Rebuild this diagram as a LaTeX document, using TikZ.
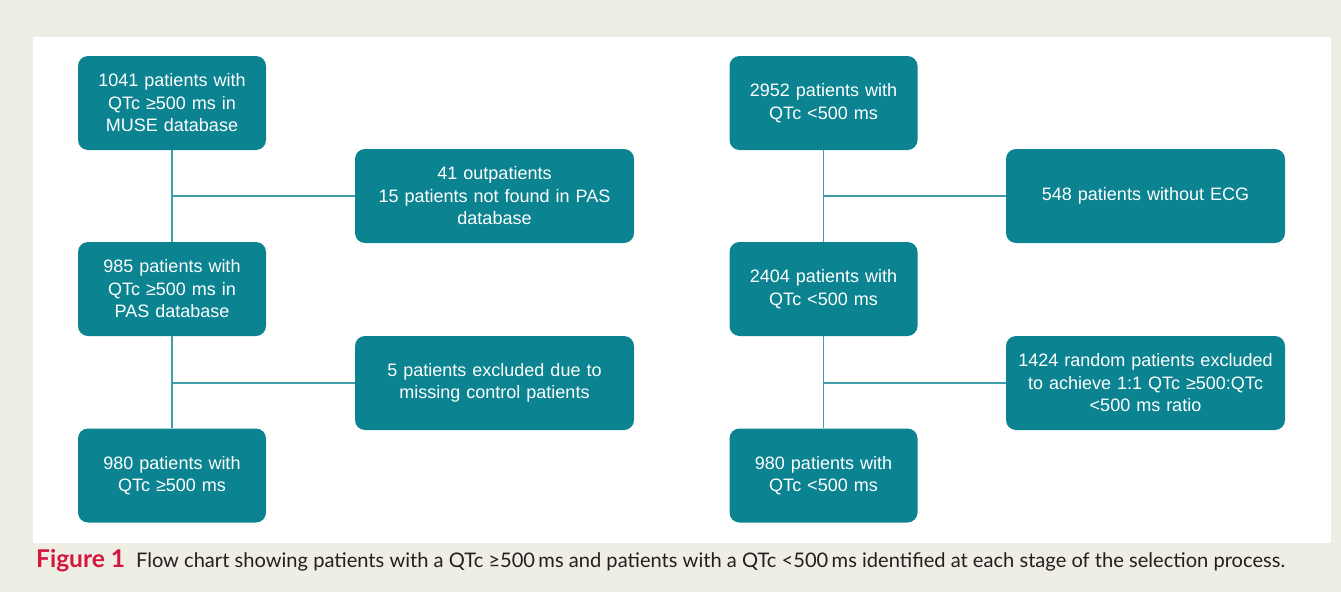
\documentclass[tikz,border=0pt]{standalone}
\usepackage{fontspec}
\setmainfont{Liberation Sans}
\newfontfamily\capfont{Lato}
\definecolor{boxteal}{HTML}{0B8391}
\definecolor{lineteal}{HTML}{3E9EA9}
\definecolor{bgbeige}{HTML}{EFEEE4}
\definecolor{figred}{HTML}{D3173F}
\definecolor{captext}{HTML}{231F20}
\tikzset{
  flowbox/.style={draw=none, fill=boxteal, rounded corners=10pt, text=white, align=center,
    font=\fontsize{18}{22.5}\selectfont, inner sep=3pt},
  mainbox/.style={flowbox, minimum width=188pt, minimum height=94pt, text width=182pt},
  sidebox/.style={flowbox, minimum width=279pt, minimum height=94pt, text width=273pt},
  conn/.style={draw=lineteal, line width=1.8pt}
}
\begin{document}
\begin{tikzpicture}[x=1pt,y=-1pt]
\useasboundingbox (0,0) rectangle (1341,592);
\fill[bgbeige] (0,0) rectangle (1341,592);
\fill[white] (33,37) rectangle (1331,543);

% left column
\node[mainbox] (l1) at (172,103) {1041 patients with\\QTc ≥500 ms in\\MUSE database};
\node[mainbox] (l2) at (172,289) {985 patients with\\QTc ≥500 ms in\\PAS database};
\node[mainbox] (l3) at (172,475.5) {980 patients with\\QTc ≥500 ms};
\node[sidebox] (ls1) at (494.5,196) {41 outpatients\\15 patients not found in PAS\\database};
\node[sidebox] (ls2) at (494.5,383) {5 patients excluded due to\\missing control patients};

% right column
\node[mainbox] (r1) at (823.5,103) {2952 patients with\\QTc <500 ms};
\node[mainbox] (r2) at (823.5,289) {2404 patients with\\QTc <500 ms};
\node[mainbox] (r3) at (823.5,475.5) {980 patients with\\QTc <500 ms};
\node[sidebox] (rs1) at (1145.5,196) {548 patients without ECG};
\node[sidebox] (rs2) at (1145.5,383) {1424 random patients excluded\\to achieve 1:1 QTc ≥500:QTc\\<500 ms ratio};

% connectors
\coordinate (lj1) at (l1.south |- ls1.west);
\coordinate (lj2) at (l2.south |- ls2.west);
\coordinate (rj1) at (r1.south |- rs1.west);
\coordinate (rj2) at (r2.south |- rs2.west);
\draw[conn] (l1.south) -- (l2.north);
\draw[conn] (l2.south) -- (l3.north);
\draw[conn] (lj1) -- (ls1.west);
\draw[conn] (lj2) -- (ls2.west);
\draw[conn] (r1.south) -- (r2.north);
\draw[conn] (r2.south) -- (r3.north);
\draw[conn] (rj1) -- (rs1.west);
\draw[conn] (rj2) -- (rs2.west);

% caption
\node[anchor=base west, inner sep=0pt, font=\capfont\fontsize{20.1}{22}\selectfont, text=captext] (cap) at (36,567)
  {{\fontsize{24.5}{25}\selectfont\bfseries\color{figred}Figure 1}\hspace{11pt}Flow chart showing patients with a QTc ≥500\,ms and patients with a QTc <500\,ms identified at each stage of the selection process.};
\end{tikzpicture}
\end{document}
